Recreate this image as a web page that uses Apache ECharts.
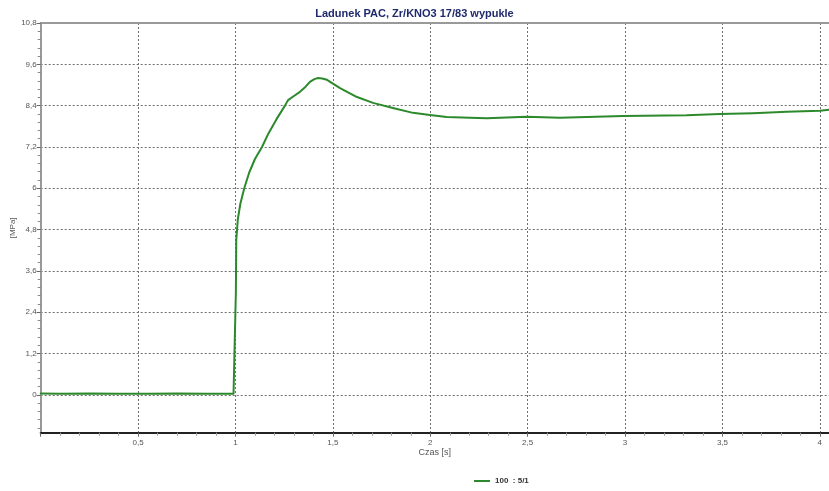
<!DOCTYPE html>
<html>
<head>
<meta charset="utf-8">
<script src="https://cdn.jsdelivr.net/npm/echarts@6/dist/echarts.min.js"></script>
<style>
  html, body { margin: 0; padding: 0; background: #fff; }
  #chart { width: 829px; height: 491px; }
</style>
</head>
<body>
<div id="chart"></div>
<script>
// Pressure trace of the charge (time in s, pressure in MPa)
const timeS = [
  0, 0.1, 0.25, 0.4, 0.55, 0.7, 0.85, 0.99, 1.0, 1.002, 1.004, 1.012, 1.025,
  1.045, 1.07, 1.1, 1.136, 1.17, 1.21, 1.254, 1.27, 1.3, 1.331, 1.36, 1.382,
  1.405, 1.424, 1.445, 1.47, 1.5, 1.537, 1.58, 1.624, 1.706, 1.808, 1.911,
  1.998, 2.084, 2.204, 2.29, 2.495, 2.665, 2.99, 3.316, 3.487, 3.657, 3.83,
  4.0, 4.047
];
const pressureMPa = [
  0.04, 0.03, 0.04, 0.03, 0.03, 0.04, 0.03, 0.03, 0.05, 3.0, 4.5, 5.1, 5.55,
  6.0, 6.45, 6.85, 7.2, 7.6, 8.0, 8.4, 8.56, 8.68, 8.8, 8.95, 9.09,
  9.17, 9.2, 9.19, 9.15, 9.04, 8.91, 8.78, 8.65, 8.48, 8.33, 8.19,
  8.13, 8.07, 8.05, 8.03, 8.08, 8.05, 8.10, 8.12, 8.16, 8.18, 8.22,
  8.25, 8.28
];
const seriesName = '100  : 5/1';
const xTickValues = [0.5, 1, 1.5, 2, 2.5, 3, 3.5, 4];
const yTickValues = [0, 1.2, 2.4, 3.6, 4.8, 6, 7.2, 8.4, 9.6, 10.8];

const X_MIN = 0, X_MAX = 4.047;
const Y_MIN = -1.1, Y_MAX = 10.8;

// minor ticks every 0.24 MPa between the labelled values
const yMinorTickValues = [];
for (let i = -4; i <= 45; i++) {
  const v = Math.round(i * 0.24 * 100) / 100;
  if (i % 5 !== 0 && v > Y_MIN && v < Y_MAX) yMinorTickValues.push(v);
}

const comma = v => String(Math.round(v * 100) / 100).replace('.', ',');
const FONT = 'Liberation Sans, Arial, sans-serif';
const gridDots = { color: '#6f6f6f', width: 1, type: [2, 2] };

const chart = echarts.init(document.getElementById('chart'), null, { renderer: 'canvas' });
chart.setOption({
  animation: false,
  backgroundColor: '#fff',
  title: {
    text: 'Ladunek PAC, Zr/KNO3 17/83 wypukle',
    left: 'center',
    top: 3,
    textStyle: { fontFamily: FONT, fontSize: 11, fontWeight: 'bold', color: '#1f2a6e' }
  },
  legend: {
    left: 469,
    top: 472,
    itemWidth: 16,
    itemHeight: 8,
    itemGap: 4,
    icon: 'path://M0,4 L16,4 L16,6 L0,6 Z',
    textStyle: { fontFamily: FONT, fontSize: 8, fontWeight: 'bold', color: '#333' },
    data: [seriesName]
  },
  grid: {
    left: 40.7, right: 0, top: 23, bottom: 58.3,
    containLabel: false, outerBoundsMode: 'none'
  },
  xAxis: [
    {
      type: 'value', min: X_MIN, max: X_MAX, interval: 0.5,
      name: 'Czas [s]', nameLocation: 'middle', nameGap: 15, nameMoveOverlap: false,
      nameTextStyle: { fontFamily: FONT, fontSize: 9, color: '#555' },
      axisLine: { show: true, onZero: false, lineStyle: { color: '#222', width: 2 } },
      axisTick: { show: true, length: 4, lineStyle: { color: '#666' } },
      minorTick: { show: true, splitNumber: 5, length: 3, lineStyle: { color: '#999' } },
      axisLabel: {
        customValues: xTickValues, margin: 6,
        fontFamily: FONT, fontSize: 8, color: '#555', formatter: comma
      },
      splitLine: { show: true, lineStyle: gridDots }
    },
    {
      type: 'value', min: X_MIN, max: X_MAX, position: 'top',
      axisLine: { show: true, onZero: false, lineStyle: { color: '#999', width: 2 } },
      axisTick: { show: false }, axisLabel: { show: false }, splitLine: { show: false }
    }
  ],
  yAxis: [
    {
      type: 'value', min: Y_MIN, max: Y_MAX,
      name: '[MPa]', nameLocation: 'middle', nameGap: 24, nameMoveOverlap: false,
      nameTextStyle: { fontFamily: FONT, fontSize: 8, color: '#555' },
      axisLine: { show: true, onZero: false, lineStyle: { color: '#999', width: 2 } },
      axisTick: { show: true, customValues: yTickValues, length: 4, lineStyle: { color: '#666' } },
      axisLabel: {
        customValues: yTickValues, margin: 4,
        fontFamily: FONT, fontSize: 8, color: '#555', formatter: comma
      },
      splitLine: { show: true, lineStyle: gridDots }
    },
    {
      type: 'value', min: Y_MIN, max: Y_MAX, position: 'left', offset: 0,
      axisLine: { show: false, onZero: false },
      axisTick: { show: true, customValues: yMinorTickValues, length: 3, lineStyle: { color: '#888' } },
      axisLabel: { show: false }, splitLine: { show: false }
    }
  ],
  series: [{
    name: seriesName,
    type: 'line',
    xAxisIndex: 0,
    yAxisIndex: 0,
    data: timeS.map((t, i) => [t, pressureMPa[i]]),
    showSymbol: false,
    smooth: false,
    lineStyle: { color: '#2c8a2c', width: 2, join: 'round', cap: 'round' },
    itemStyle: { color: '#2c8a2c' }
  }]
});
</script>
</body>
</html>
